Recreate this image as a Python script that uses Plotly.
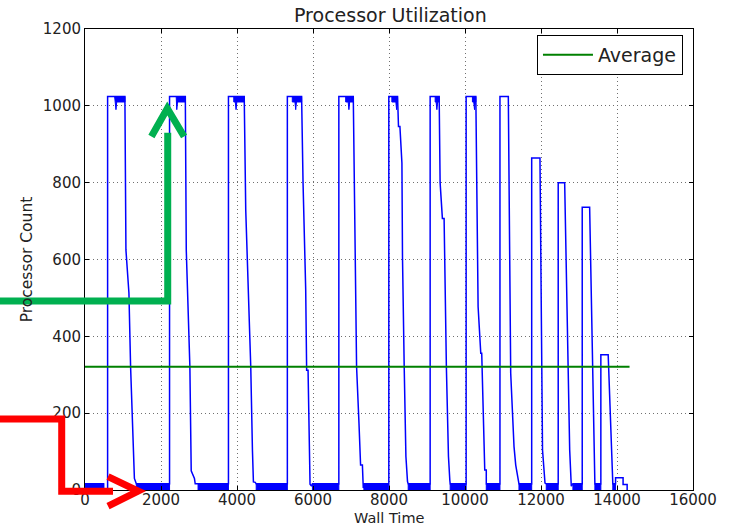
import plotly.graph_objects as go

# ---- processor count over wall time (step-like trace) ----
wall_time = [
    0, 490, 490, 595, 595, 1050, 1077, 1156, 1200, 1245, 1287, 1300, 1350,
    2225, 2225, 2640, 2665, 2760, 2795, 2880, 2900, 2975,
    3775, 3775, 4190, 4230, 4320, 4362, 4406, 4432, 4480, 4505,
    5325, 5325, 5700, 5738, 5808, 5833, 5870, 5922, 5960, 5985,
    6680, 6680, 7060, 7078, 7147, 7210, 7252, 7300, 7323, 7340,
    7995, 7995, 8225, 8250, 8287, 8340, 8355, 8400, 8445, 8487, 8505,
    9083, 9083, 9320, 9345, 9405, 9450, 9510, 9565, 9600, 9610,
    10030, 10030, 10285, 10300, 10345, 10415, 10440, 10520, 10560, 10560,
    10920, 10920, 11140, 11203, 11290, 11335, 11377, 11420,
    11755, 11755, 11973, 12040, 12105, 12138,
    12453, 12453, 12623, 12755, 12797, 12840,
    13085, 13085, 13280, 13410, 13418,
    13575, 13575, 13768, 13873, 13890,
    13962, 13962, 14160, 14160, 14267, 14267,
]
processors = [
    16, 16, 0, 0, 1024, 1024, 625, 513, 320, 174, 34, 30, 16,
    16, 1024, 1024, 625, 320, 50, 30, 16, 16,
    16, 1024, 1024, 729, 435, 320, 104, 21, 20, 16,
    16, 1024, 1024, 800, 521, 312, 312, 15, 10, 16,
    16, 1024, 1024, 867, 320, 174, 65, 65, 5, 16,
    16, 1024, 1024, 946, 946, 851, 607, 321, 87, 22, 16,
    16, 1024, 1024, 800, 707, 707, 320, 87, 26, 16,
    16, 1024, 1024, 868, 477, 356, 356, 52, 52, 16,
    16, 1024, 1024, 304, 113, 65, 35, 16,
    16, 864, 864, 104, 18, 16,
    16, 800, 800, 104, 10, 16,
    16, 736, 736, 18, 16,
    16, 352, 352, 18, 16,
    16, 32, 32, 14, 14, 0,
]

# idle periods: many tiny jobs flickering between 0 and ~16 processors
idle_start = [0, 1350, 2975, 4505, 5985, 7340, 8505, 9610, 10560, 11420, 12138, 12840, 13418, 13890]
idle_end = [490, 2225, 3775, 5325, 6680, 7995, 9083, 10030, 10920, 11755, 12453, 13085, 13575, 13962]
idle_level = 16

# saturated periods: flicker just below the 1024-processor ceiling
full_start = [780, 2400, 3915, 5455, 6860, 8075, 9215, 10195]
full_end = [1050, 2640, 4190, 5700, 7060, 8225, 9320, 10285]
full_dip = [815, 2415, 3975, 5545, 6945, 8200, 9260, 10250]
full_level = 1024
flicker_floor = 1010
dip_low = 990

average_procs = 321
average_end = 14330

x_ticks = list(range(0, 16001, 2000))
y_ticks = list(range(0, 1201, 200))

BLUE = "#0000ff"

fig = go.Figure()

# filled flicker bands at idle level
bx, by = [], []
for s, e in zip(idle_start, idle_end):
    bx += [s, e, e, s, s, None]
    by += [0, 0, idle_level, idle_level, 0, None]
fig.add_trace(go.Scatter(x=bx, y=by, mode="lines", fill="toself", fillcolor=BLUE,
                         line=dict(color=BLUE, width=1), showlegend=False, hoverinfo="skip"))

# filled flicker bands near the ceiling
tx, ty = [], []
for s, e, d in zip(full_start, full_end, full_dip):
    tx += [s, e, e, d + 20, d, d - 20, s, s, None]
    ty += [full_level, full_level, flicker_floor, flicker_floor, dip_low,
           flicker_floor, flicker_floor, full_level, None]
fig.add_trace(go.Scatter(x=tx, y=ty, mode="lines", fill="toself", fillcolor=BLUE,
                         line=dict(color=BLUE, width=1), showlegend=False, hoverinfo="skip"))

fig.add_trace(go.Scatter(x=wall_time, y=processors, mode="lines",
                         line=dict(color=BLUE, width=1.5), showlegend=False, hoverinfo="skip"))

fig.add_trace(go.Scatter(x=[0, average_end], y=[average_procs, average_procs], mode="lines",
                         line=dict(color="#008000", width=2), name="Average"))

# callout arrows, given in data units and placed relative to the paper
X_MAX, Y_MAX = 16000, 1200


def path(points):
    return "M " + " L ".join(f"{x / X_MAX:.5f},{y / Y_MAX:.5f}" for x, y in points)


green_stem = [(-2300, 492), (2177, 492), (2177, 930)]
green_head = [(1748, 920), (2166, 993), (2607, 920)]
red_stem = [(-2300, 185), (-613, 185), (-613, -3), (737, -3)]
red_head = [(606, 35), (1400, -3), (606, -42)]

shapes = []
for pts, col in [(green_stem, "#00b050"), (green_head, "#00b050"),
                 (red_stem, "#ff0000"), (red_head, "#ff0000")]:
    shapes.append(dict(type="path", xref="paper", yref="paper", path=path(pts),
                       line=dict(color=col, width=7), layer="above"))

axis_common = dict(
    showline=True, linecolor="black", linewidth=1, mirror="ticks",
    ticks="inside", ticklen=4, tickcolor="black",
    showgrid=True, gridcolor="#707070", griddash="1px,3px", gridwidth=1,
    zeroline=False, tickfont=dict(size=15, color="#222"), automargin=False,
)

fig.update_layout(
    width=729, height=527,
    margin=dict(l=85, r=36, t=29, b=37),
    paper_bgcolor="white", plot_bgcolor="white",
    font=dict(family="DejaVu Sans", color="#222"),
    title=dict(text="Processor Utilization", x=0.5355, xanchor="center",
               y=1 - 15.5 / 527, yanchor="middle", yref="container",
               font=dict(size=19, color="#222")),
    xaxis=dict(range=[0, X_MAX], tickvals=x_ticks, ticktext=[str(v) for v in x_ticks],
               ticklabelstandoff=-4, **axis_common),
    yaxis=dict(range=[0, Y_MAX], tickvals=y_ticks, ticktext=[str(v) for v in y_ticks],
               title=dict(text="Processor Count", standoff=6, font=dict(size=15.5)), **axis_common),
    legend=dict(x=0.9835, xanchor="right", y=0.987, yanchor="top",
                bgcolor="white", bordercolor="black", borderwidth=1, itemwidth=50,
                font=dict(size=19, color="#222")),
    annotations=[dict(text="Wall Time", xref="paper", yref="paper", x=0.5, y=-0.0607,
                      xanchor="center", yanchor="middle", showarrow=False,
                      font=dict(size=14.5, color="#222"))],
    shapes=shapes,
)

fig.write_html("out.html")
